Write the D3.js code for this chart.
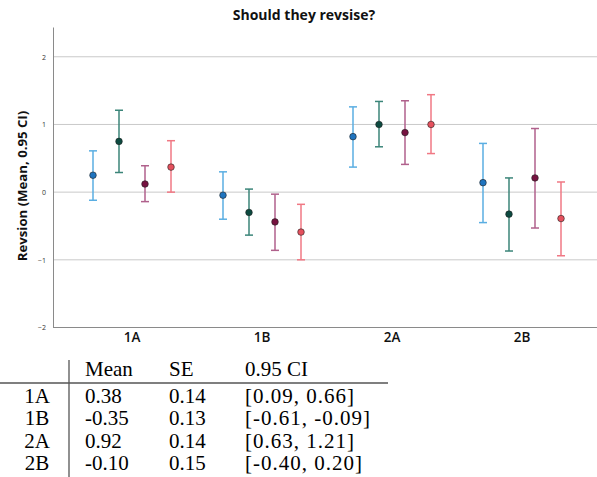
<!DOCTYPE html>
<html><head><meta charset="utf-8">
<script src="https://cdn.jsdelivr.net/npm/d3@7"></script>
<style>body{margin:0;background:#fff}svg{display:block}</style>
</head><body>
<script>
const categories = ["1A","1B","2A","2B"];
const series = ["s1","s2","s3","s4"];
// mean, lower, upper per series per category
const means = {
  s1:[0.25,-0.045,0.82,0.14],
  s2:[0.75,-0.30,1.00,-0.325],
  s3:[0.12,-0.44,0.88,0.21],
  s4:[0.37,-0.59,1.00,-0.39]
};
const lowers = {
  s1:[-0.12,-0.40,0.37,-0.45],
  s2:[0.29,-0.635,0.67,-0.87],
  s3:[-0.14,-0.86,0.41,-0.53],
  s4:[0.00,-1.00,0.57,-0.94]
};
const uppers = {
  s1:[0.61,0.30,1.26,0.72],
  s2:[1.21,0.045,1.34,0.21],
  s3:[0.39,-0.03,1.35,0.94],
  s4:[0.76,-0.18,1.44,0.15]
};
const yTicks = [-2,-1,0,1,2];
const tableHeader = ["Mean","SE","0.95 CI"];
const tableRows = ["1A","1B","2A","2B"];
const tableMean = ["0.38","-0.35","0.92","-0.10"];
const tableSE = ["0.14","0.13","0.14","0.15"];
const tableCI = ["[0.09, 0.66]","[-0.61, -0.09]","[0.63, 1.21]","[-0.40, 0.20]"];

const barColor = {s1:"#5aaee2", s2:"#3b8579", s3:"#b0618c", s4:"#f07884"};
const dotColor = {s1:"#1f74bf", s2:"#0c4a40", s3:"#761240", s4:"#e5505d"};

const W=597,H=477;
const svg=d3.select("body").append("svg").attr("width",W).attr("height",H);
const pLeft=53,pRight=597,pTop=27,pBottom=327.5;
const y=d3.scaleLinear().domain([-2,2.44]).range([pBottom,pTop]);
const x=d3.scaleBand().domain(categories).range([67,587]);
const xs=d3.scalePoint().domain(series).range([-39,39]);

// gridlines
svg.append("g").selectAll("line").data(yTicks.filter(d=>d!==-2)).join("line")
 .attr("x1",pLeft).attr("x2",pRight).attr("y1",d=>y(d)).attr("y2",d=>y(d))
 .attr("stroke","#c9c9c9").attr("stroke-width",1);

// y axis
const ya=svg.append("g").attr("transform",`translate(${pLeft},0)`)
 .call(d3.axisLeft(y).tickValues(yTicks).tickSize(0).tickPadding(7).tickFormat(d3.format("d")));
ya.select(".domain").attr("stroke","#8a8a8a");
ya.selectAll("text").attr("font-family","Open Sans").attr("font-size",7).attr("fill","#333");

// x axis
const xa=svg.append("g").attr("transform",`translate(0,${pBottom})`)
 .call(d3.axisBottom(x).tickSize(0).tickPadding(5));
xa.select(".domain").attr("stroke","#8a8a8a").attr("d",`M${pLeft},0H${pRight}`);
xa.selectAll("text").attr("font-family","Open Sans").attr("font-size",13.5).attr("font-weight",600).attr("fill","#111");

// error bars
series.forEach(s=>{
  const g=svg.append("g");
  const data=categories.map((c,i)=>({c,m:means[s][i],lo:lowers[s][i],hi:uppers[s][i]}));
  const cx=d=>x(d.c)+x.bandwidth()/2+xs(s);
  g.selectAll("line.v").data(data).join("line").attr("class","v")
   .attr("x1",cx).attr("x2",cx).attr("y1",d=>y(d.lo)).attr("y2",d=>y(d.hi))
   .attr("stroke",barColor[s]).attr("stroke-width",1.5);
  ["lo","hi"].forEach(k=>{
    g.selectAll("line."+k).data(data).join("line").attr("class",k)
     .attr("x1",d=>cx(d)-4).attr("x2",d=>cx(d)+4).attr("y1",d=>y(d[k])).attr("y2",d=>y(d[k]))
     .attr("stroke",barColor[s]).attr("stroke-width",1.5);
  });
  g.selectAll("circle").data(data).join("circle")
   .attr("cx",cx).attr("cy",d=>y(d.m)).attr("r",3.3)
   .attr("fill",dotColor[s]).attr("stroke","#222").attr("stroke-width",0.6);
});

// title
svg.append("text").attr("x",304).attr("y",20).attr("text-anchor","middle")
 .attr("font-family","Open Sans").attr("font-weight",700).attr("font-size",14).attr("fill","#111")
 .text("Should they revsise?");
// y label
svg.append("text").attr("transform",`translate(27,186) rotate(-90)`).attr("text-anchor","middle")
 .attr("font-family","Open Sans").attr("font-weight",700).attr("font-size",13.2).attr("fill","#111")
 .text("Revsion (Mean, 0.95 CI)");

// table
const tf="Liberation Serif", ts=21;
const tg=svg.append("g").attr("font-family",tf).attr("font-size",ts).attr("fill","#000");
const colX=[85,169,245];
tableHeader.forEach((h,i)=>tg.append("text").attr("x",colX[i]).attr("y",376).text(h));
const rowY=d3.scalePoint().domain(tableRows).range([403,470]);
tableRows.forEach((r,i)=>{
  tg.append("text").attr("x",37).attr("y",rowY(r)).attr("text-anchor","middle").text(r);
  tg.append("text").attr("x",colX[0]).attr("y",rowY(r)).text(tableMean[i]);
  tg.append("text").attr("x",colX[1]).attr("y",rowY(r)).text(tableSE[i]);
  tg.append("text").attr("x",colX[2]).attr("y",rowY(r)).attr("letter-spacing",1).text(tableCI[i]);
});
svg.append("line").attr("x1",0).attr("x2",388).attr("y1",383).attr("y2",383).attr("stroke","#555").attr("stroke-width",1.3);
svg.append("line").attr("x1",69).attr("x2",69).attr("y1",360).attr("y2",477).attr("stroke","#555").attr("stroke-width",1.3);
</script>
</body></html>
